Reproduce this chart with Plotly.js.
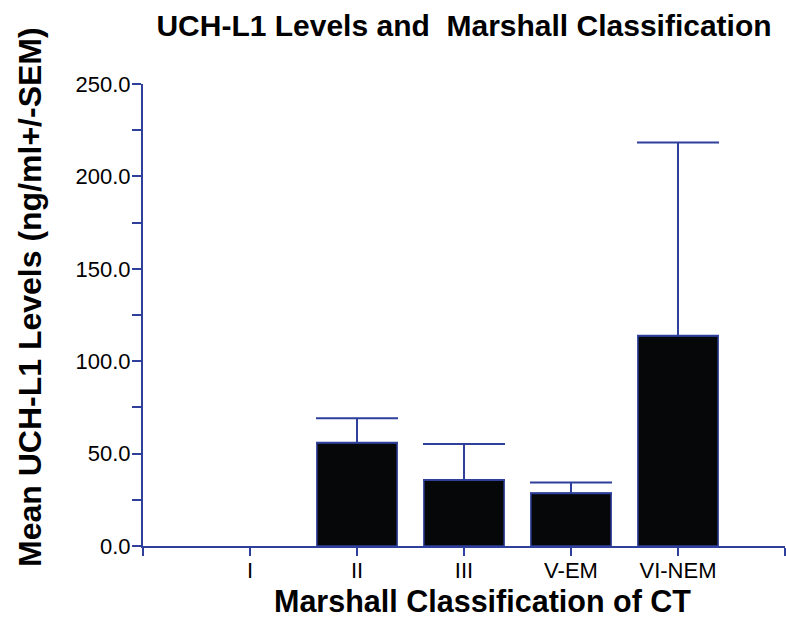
<!DOCTYPE html>
<html>
<head>
<meta charset="utf-8">
<script src="https://cdn.plot.ly/plotly-3.0.1.min.js"></script>
<style>html,body{margin:0;padding:0;background:#fff}#chart{width:786px;height:621px}</style>
</head>
<body>
<div id="chart"></div>
<script>
var categories = ['I', 'II', 'III', 'V-EM', 'VI-NEM'];
var meanValues = [null, 55.9, 35.7, 28.5, 113.8];
var semValues = [null, 13.2, 19.5, 5.8, 104.6];
var yTickValues = [0, 50, 100, 150, 200, 250];

var blue = '#2f3f9c';
var xPos = categories.map(function (c, i) { return i + 1; });

var trace = {
  type: 'bar',
  x: xPos,
  y: meanValues,
  width: 0.75,
  marker: { color: '#050708', line: { color: blue, width: 1.5 } },
  error_y: {
    type: 'data',
    symmetric: false,
    array: semValues,
    arrayminus: semValues.map(function (v) { return v === null ? null : 0; }),
    color: blue,
    thickness: 2,
    width: 41
  },
  hoverinfo: 'skip'
};

var layout = {
  width: 786,
  height: 621,
  margin: { l: 143, r: 1, t: 84, b: 75 },
  paper_bgcolor: '#ffffff',
  plot_bgcolor: '#ffffff',
  showlegend: false,
  font: { family: 'Liberation Sans, Arial, sans-serif', color: '#000' },
  title: {
    text: 'UCH-L1 Levels and  Marshall Classification',
    font: { family: 'Liberation Sans, Arial, sans-serif', size: 30, weight: 'bold', color: '#000' },
    xref: 'paper', x: 0.5, xanchor: 'center',
    yref: 'container', y: 1 - 25 / 621, yanchor: 'middle'
  },
  xaxis: {
    range: [0, categories.length + 1],
    tickvals: [0].concat(xPos, [categories.length + 1]),
    ticktext: [''].concat(categories, ['']),
    ticks: 'outside', ticklen: 8, tickwidth: 2, tickcolor: blue,
    ticklabelstandoff: -4,
    showline: true, linecolor: blue, linewidth: 2,
    showgrid: false, zeroline: false,
    tickfont: { size: 22, color: '#000' },
    fixedrange: true
  },
  yaxis: {
    range: [0, 250],
    tickvals: yTickValues,
    ticktext: yTickValues.map(function (v) { return v.toFixed(1); }),
    ticks: 'outside', ticklen: 9, tickwidth: 2, tickcolor: blue,
    ticklabelstandoff: -3,
    minor: { dtick: 25, ticks: 'outside', ticklen: 9, tickwidth: 2, tickcolor: blue, showgrid: false },
    showline: true, linecolor: blue, linewidth: 2,
    showgrid: false, zeroline: false,
    tickfont: { size: 22, color: '#000' },
    fixedrange: true
  },
  annotations: [
    {
      text: 'Marshall Classification of CT',
      xref: 'paper', yref: 'paper', x: (482 - 143) / 642, y: -(601 - 546) / 462,
      xanchor: 'center', yanchor: 'middle', showarrow: false,
      font: { family: 'Liberation Sans, Arial, sans-serif', size: 30.5, weight: 'bold', color: '#000' }
    },
    {
      text: 'Mean UCH-L1 Levels (ng/ml+/-SEM)',
      xref: 'paper', yref: 'paper', x: -(143 - 30) / 642, y: (546 - 297) / 462,
      xanchor: 'center', yanchor: 'middle', showarrow: false, textangle: -90,
      font: { family: 'Liberation Sans, Arial, sans-serif', size: 32, weight: 'bold', color: '#000' }
    }
  ]
};

Plotly.newPlot('chart', [trace], layout, { displayModeBar: false, staticPlot: true });
</script>
</body>
</html>
